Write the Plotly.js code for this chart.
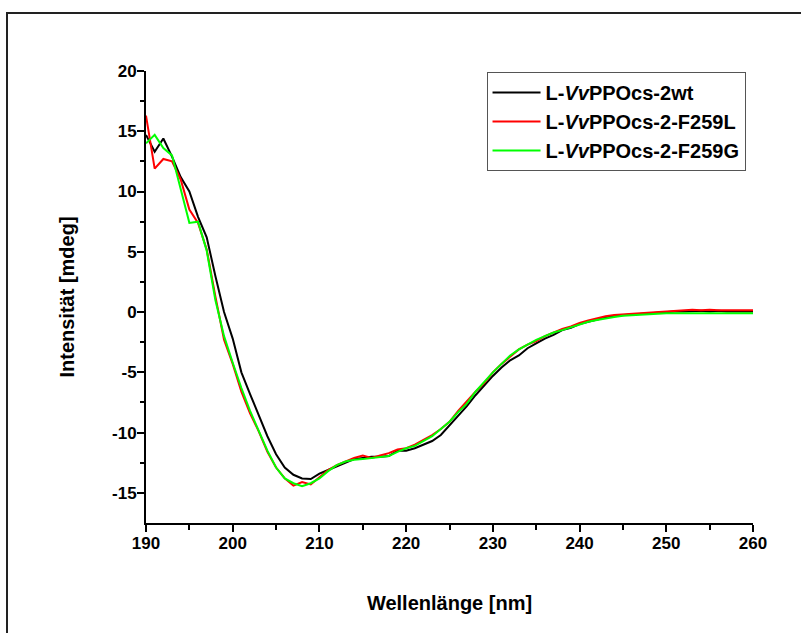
<!DOCTYPE html>
<html>
<head>
<meta charset="utf-8">
<script src="https://cdn.plot.ly/plotly-3.0.1.min.js"></script>
<style>
html,body{margin:0;padding:0;background:#fff;}
#chart{width:801px;height:633px;}
</style>
</head>
<body>
<div id="chart"></div>
<script>
// Wavelength (nm), 1 nm steps
const wavelength = [];
for (let w = 190; w <= 260; w++) wavelength.push(w);

const seriesNames = ["L-<i>Vv</i>PPOcs-2wt", "L-<i>Vv</i>PPOcs-2-F259L", "L-<i>Vv</i>PPOcs-2-F259G"];

const wt = [14.7,13.3,14.4,12.9,11.2,10.0,7.9,6.2,3.0,0.0,
  -2.2,-5.0,-6.8,-8.6,-10.3,-11.8,-12.9,-13.5,-13.8,-13.85,
  -13.4,-13.1,-12.8,-12.5,-12.2,-12.1,-12.0,-12.0,-11.95,-11.5,
  -11.5,-11.3,-11.0,-10.7,-10.2,-9.4,-8.6,-7.8,-6.9,-6.1,
  -5.3,-4.6,-4.0,-3.6,-3.0,-2.6,-2.2,-1.9,-1.5,-1.3,
  -1.0,-0.8,-0.6,-0.45,-0.3,-0.25,-0.15,-0.1,-0.05,0.0,
  0.0,0.05,0.05,0.1,0.1,0.05,0.1,0.05,0.05,0.05,0.05];

const f259l = [16.3,11.9,12.7,12.5,11.0,8.5,7.4,5.2,1.3,-2.3,
  -4.3,-6.6,-8.4,-9.9,-11.6,-12.9,-13.8,-14.4,-14.1,-14.3,
  -13.7,-13.1,-12.7,-12.4,-12.1,-11.9,-12.1,-11.9,-11.7,-11.4,
  -11.3,-11.0,-10.6,-10.2,-9.7,-9.1,-8.2,-7.4,-6.6,-5.9,
  -5.0,-4.3,-3.7,-3.1,-2.7,-2.4,-2.0,-1.7,-1.4,-1.2,
  -0.9,-0.7,-0.5,-0.35,-0.25,-0.2,-0.1,-0.05,0.0,0.05,
  0.05,0.1,0.15,0.2,0.15,0.2,0.15,0.15,0.15,0.15,0.15];

const f259g = [14.0,14.7,13.6,13.0,10.2,7.4,7.5,5.1,1.0,-2.0,
  -4.2,-6.3,-8.2,-9.8,-11.5,-12.9,-13.8,-14.2,-14.45,-14.2,
  -13.8,-13.2,-12.7,-12.4,-12.25,-12.2,-12.1,-12.0,-11.95,-11.6,
  -11.3,-11.1,-10.7,-10.3,-9.7,-9.1,-8.3,-7.6,-6.6,-5.8,
  -5.0,-4.3,-3.6,-3.1,-2.7,-2.3,-2.0,-1.7,-1.5,-1.25,
  -1.0,-0.8,-0.65,-0.5,-0.4,-0.3,-0.25,-0.2,-0.15,-0.12,
  -0.1,-0.1,-0.1,-0.1,-0.1,-0.1,-0.1,-0.1,-0.1,-0.1,-0.1];

const colors = ["#000000", "#ff0000", "#00ff00"];
const values = [wt, f259l, f259g];

const traces = values.map((v, i) => ({
  x: wavelength, y: v, type: "scatter", mode: "lines",
  name: seriesNames[i],
  line: {color: colors[i], width: 2}
}));

const font = {family: "Liberation Sans, Arial, sans-serif", color: "#000"};

const layout = {
  width: 801, height: 633,
  margin: {l: 146, r: 48, t: 71, b: 110},
  paper_bgcolor: "#fff", plot_bgcolor: "#fff",
  showlegend: true,
  font: font,
  xaxis: {
    range: [190, 260], tickmode: "array",
    tickvals: [190,200,210,220,230,240,250,260],
    ticks: "outside", ticklen: 7, tickwidth: 2, tickcolor: "#000",
    ticklabelstandoff: -3,
    minor: {tickvals: [195,205,215,225,235,245,255], ticks: "outside", ticklen: 5, tickwidth: 2, tickcolor: "#000"},
    showline: true, linecolor: "#000", linewidth: 2,
    showgrid: false, zeroline: false,
    tickfont: {family: font.family, size: 17, weight: "bold", color: "#000"},
    title: {text: "<b>Wellenlänge [nm]</b>", font: {family: font.family, size: 20, color: "#000"}, standoff: 44}
  },
  yaxis: {
    range: [-17.5, 20], tickmode: "array",
    tickvals: [-15,-10,-5,0,5,10,15,20],
    ticktext: ["-15","-10","-5","0","5","10","15","20"],
    ticks: "outside", ticklen: 7, tickwidth: 2, tickcolor: "#000",
    ticklabelstandoff: -3,
    minor: {tickvals: [-12.5,-7.5,-2.5,2.5,7.5,12.5,17.5], ticks: "outside", ticklen: 4, tickwidth: 2, tickcolor: "#000"},
    showline: true, linecolor: "#000", linewidth: 2,
    showgrid: false, zeroline: false,
    tickfont: {family: font.family, size: 17, weight: "bold", color: "#000"},
    title: {text: "<b>Intensität [mdeg]</b>", font: {family: font.family, size: 20, color: "#000"}, standoff: 32}
  },
  legend: {
    x: 0.561, y: 0.998, xanchor: "left", yanchor: "top",
    bgcolor: "#fff", bordercolor: "#555", borderwidth: 1,
    font: {family: font.family, size: 20, weight: "bold", color: "#000"},
    itemwidth: 48,
    tracegroupgap: 0
  },
  shapes: [{
    type: "rect", xref: "paper", yref: "paper",
    x0: (7 - 146) / 607, x1: (810 - 146) / 607,
    y0: (523 - 650) / 452, y1: (523 - 13) / 452,
    line: {color: "#222", width: 2}, fillcolor: "rgba(0,0,0,0)", layer: "below"
  }]
};

Plotly.newPlot("chart", traces, layout, {staticPlot: true, displayModeBar: false});
</script>
</body>
</html>
